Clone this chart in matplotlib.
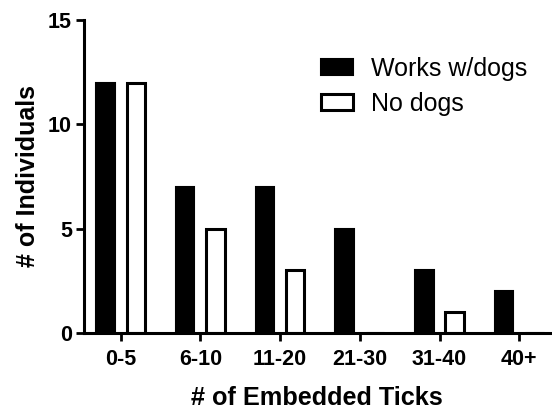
import matplotlib
matplotlib.use("Agg")
import matplotlib.pyplot as plt
import numpy as np

categories = ["0-5", "6-10", "11-20", "21-30", "31-40", "40+"]
works_dogs = [12, 7, 7, 5, 3, 2]
no_dogs = [12, 5, 3, 0, 1, 0]
yticks = [0, 5, 10, 15]

plt.rcParams['font.family'] = ['Liberation Sans', 'DejaVu Sans']

fig = plt.figure(figsize=(5.52, 4.09), dpi=100)
ax = fig.add_axes([0.152, 0.186, 0.845, 0.765])

x = np.arange(len(categories))
w = 0.23
off = 0.19
ax.bar(x - off, works_dogs, w, color="black", edgecolor="black", linewidth=1.5, label="Works w/dogs")
ax.bar(x + off, no_dogs, w, color="white", edgecolor="black", linewidth=2.2, label="No dogs")

ax.set_xlim(-0.46, 5.39)
ax.set_ylim(0, 15)
ax.set_yticks(yticks)
ax.set_xticks(x)
ax.set_xticklabels(categories, fontsize=15.5, fontweight="bold")
ax.set_yticklabels([str(t) for t in yticks], fontsize=15.5, fontweight="bold")
for s in ["top", "right"]:
    ax.spines[s].set_visible(False)
for s in ["left", "bottom"]:
    ax.spines[s].set_linewidth(2.2)
    ax.spines[s].set_zorder(5)
ax.tick_params(axis="y", width=2, length=5.5, direction="out", pad=3)
ax.tick_params(axis="x", width=2, length=5.5, direction="out", pad=6)
ax.set_xlabel("# of Embedded Ticks", fontsize=18.2, fontweight="bold", labelpad=11.5)
ax.set_ylabel("# of Individuals", fontsize=18, fontweight="bold", labelpad=6)

leg = fig.legend(loc="upper left", bbox_to_anchor=(0.5815, 0.861), frameon=False,
                 fontsize=18, handlelength=1.28, handleheight=0.62, labelspacing=0.44,
                 handletextpad=0.74, borderpad=0, borderaxespad=0)

fig.savefig("out.png", dpi=100)
